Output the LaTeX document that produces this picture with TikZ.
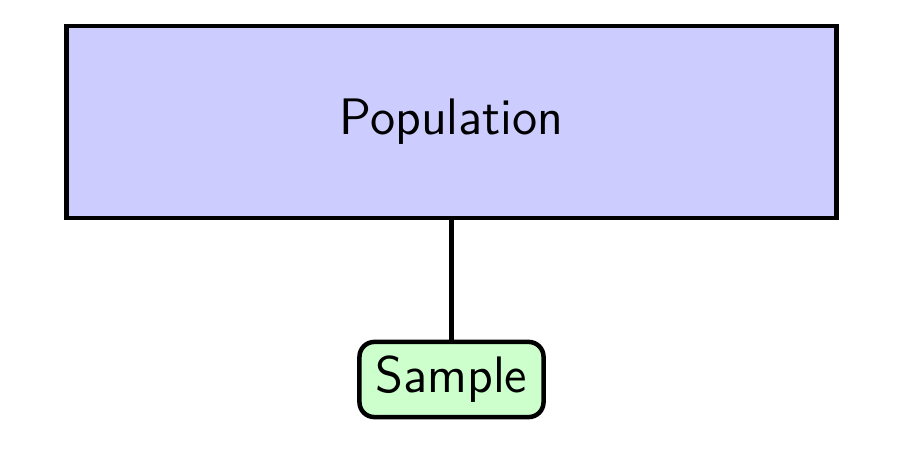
\documentclass[tikz,border=0pt]{standalone}
\usepackage{tikz}
\begin{document}
\begin{tikzpicture}[x=0.2222pt,y=-0.2222pt,
  popbox/.style={draw=black,line width=1pt,fill=blue!20,minimum width=171.1pt,minimum height=42.7pt,font=\sffamily\fontsize{11.4}{13.5}\selectfont,inner sep=0pt},
  sampbox/.style={draw=black,line width=1pt,fill=green!20,rounded corners=3.3pt,minimum width=40.9pt,minimum height=16.7pt,font=\sffamily\fontsize{11.4}{13.5}\selectfont,inner sep=0pt},
  link/.style={line width=1pt}]
\useasboundingbox (0,0) rectangle (906,454);
\node[popbox] (pop) at (451.5,122) {Population};
\node[sampbox] (samp) at (451.5,379.5) {Sample};
\draw[link] (pop.south) -- (samp.north);
\end{tikzpicture}
\end{document}
